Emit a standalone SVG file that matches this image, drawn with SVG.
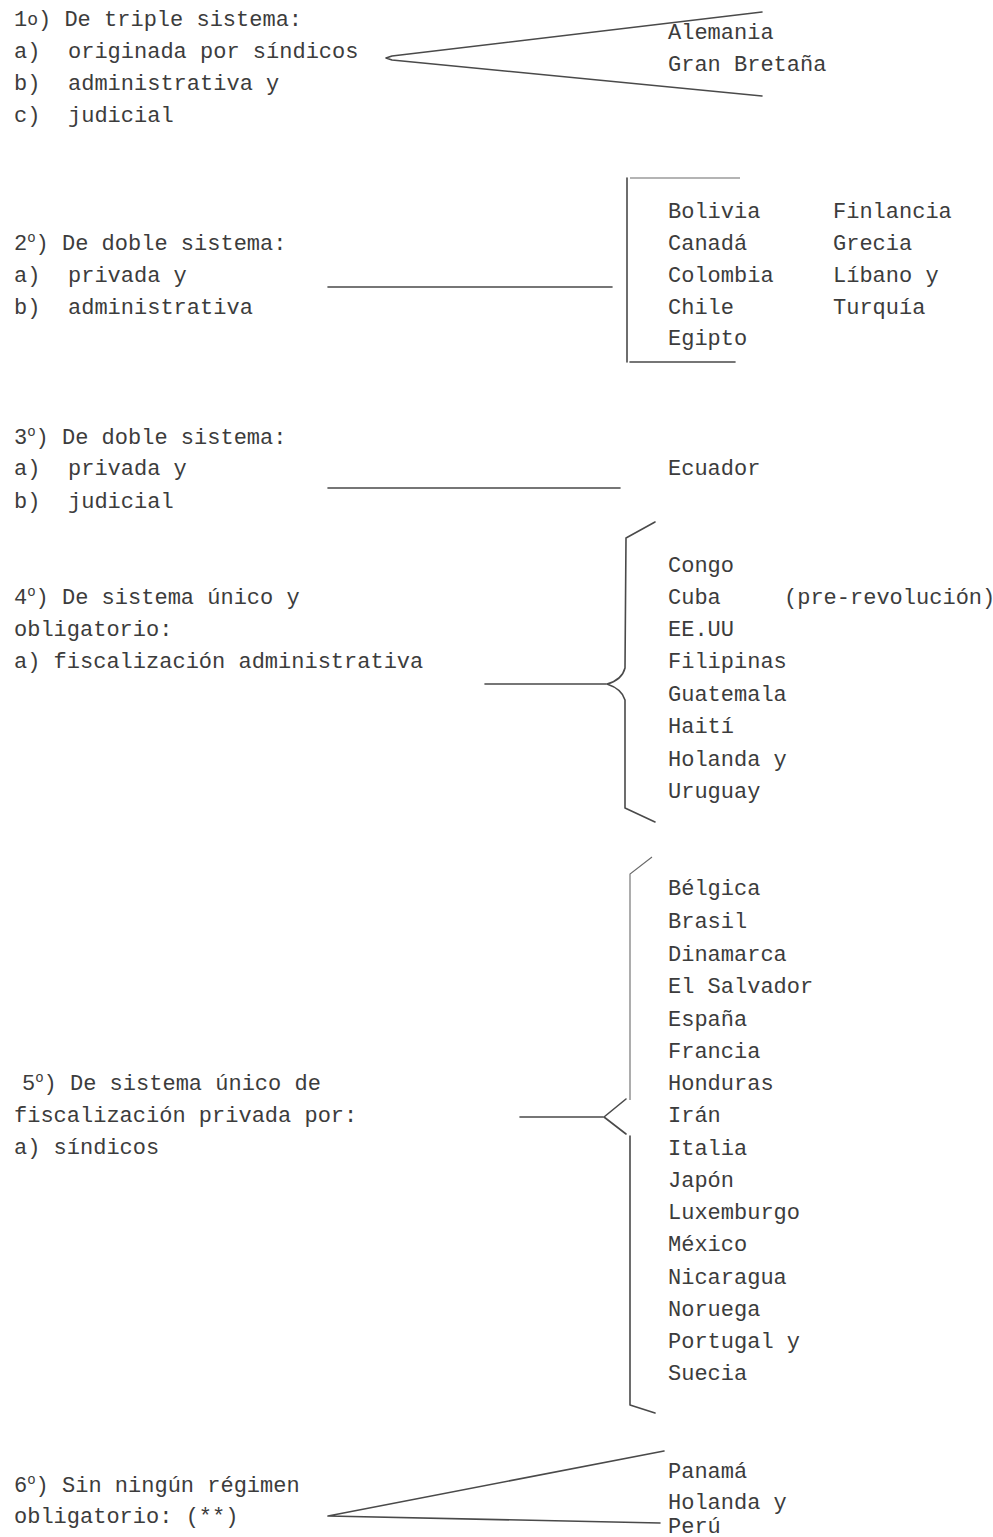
<svg xmlns="http://www.w3.org/2000/svg" width="993" height="1537" viewBox="0 0 993 1537">
<style>
text{font-family:"Liberation Mono","DejaVu Sans Mono",monospace;font-size:22px;fill:#3c3c3c;}
.sup{font-size:14px;}
.ln{stroke:#4a4a4a;stroke-width:1.6;fill:none;stroke-linecap:round;stroke-linejoin:round;}
.lt{stroke:#6a6a6a;stroke-width:1.1;fill:none;}
</style>
<rect width="993" height="1537" fill="#ffffff"/>
<g id="connectors">
<path class="ln" d="M762,12 L392,56 L386,58 L392,60 L762,96"/>
<path class="ln" d="M328,287 L612,287"/>
<path class="ln" d="M627,178 L627,362"/>
<path class="lt" d="M630,178 L740,178"/>
<path class="ln" d="M630,362 L735,362"/>
<path class="ln" d="M328,488 L620,488"/>
<path class="ln" d="M485,684 L606,684"/>
<path class="ln" d="M655,522 L626,538 L625,668 Q622,680 607,684 Q622,689 625,700 L625,808 L655,822"/>
<path class="ln" d="M520,1117 L603,1117"/>
<path class="ln" d="M626,1099 L604,1117 L626,1134"/>
<path class="lt" d="M652,857 L630,874 L630,1100"/>
<path class="ln" d="M630,1136 L630,1405 L655,1413"/>
<path class="ln" d="M664,1451 L328,1516 L660,1523"/>
</g>
<g id="n1">
<text x="14" y="26">1<tspan font-size="18" dy="-1">o</tspan><tspan dy="1">) De triple sistema:</tspan></text>
<text x="14" y="58">a)</text><text x="68" y="58">originada por síndicos</text>
<text x="14" y="90">b)</text><text x="68" y="90">administrativa y</text>
<text x="14" y="122">c)</text><text x="68" y="122">judicial</text>
</g>
<g id="c1">
<text x="668" y="39">Alemania</text>
<text x="668" y="71">Gran Bretaña</text>
</g>
<g id="n2">
<text x="14" y="250">2<tspan class="sup" dy="-8">o</tspan><tspan dy="8">) De doble sistema:</tspan></text>
<text x="14" y="282">a)</text><text x="68" y="282">privada y</text>
<text x="14" y="314">b)</text><text x="68" y="314">administrativa</text>
</g>
<g id="c2">
<text x="668" y="218">Bolivia</text>
<text x="668" y="250">Canadá</text>
<text x="668" y="282">Colombia</text>
<text x="668" y="314">Chile</text>
<text x="668" y="345">Egipto</text>
<text x="833" y="218">Finlancia</text>
<text x="833" y="250">Grecia</text>
<text x="833" y="282">Líbano y</text>
<text x="833" y="314">Turquía</text>
</g>
<g id="n3">
<text x="14" y="444">3<tspan class="sup" dy="-8">o</tspan><tspan dy="8">) De doble sistema:</tspan></text>
<text x="14" y="475">a)</text><text x="68" y="475">privada y</text>
<text x="14" y="508">b)</text><text x="68" y="508">judicial</text>
</g>
<g id="c3">
<text x="668" y="475">Ecuador</text>
</g>
<g id="n4">
<text x="14" y="604">4<tspan class="sup" dy="-8">o</tspan><tspan dy="8">) De sistema único y</tspan></text>
<text x="14" y="636">obligatorio:</text>
<text x="14" y="668">a) fiscalización administrativa</text>
</g>
<g id="c4">
<text x="668" y="572">Congo</text>
<text x="668" y="604">Cuba</text><text x="784" y="604" font-size="20.5">(pre-revolución)</text>
<text x="668" y="636">EE.UU</text>
<text x="668" y="668">Filipinas</text>
<text x="668" y="701">Guatemala</text>
<text x="668" y="733">Haití</text>
<text x="668" y="766">Holanda y</text>
<text x="668" y="798">Uruguay</text>
</g>
<g id="n5">
<text x="22" y="1090">5<tspan class="sup" dy="-8">o</tspan><tspan dy="8">) De sistema único de</tspan></text>
<text x="14" y="1122">fiscalización privada por:</text>
<text x="14" y="1154">a) síndicos</text>
</g>
<g id="c5">
<text x="668" y="895">Bélgica</text>
<text x="668" y="928">Brasil</text>
<text x="668" y="961">Dinamarca</text>
<text x="668" y="993">El Salvador</text>
<text x="668" y="1026">España</text>
<text x="668" y="1058">Francia</text>
<text x="668" y="1090">Honduras</text>
<text x="668" y="1122">Irán</text>
<text x="668" y="1155">Italia</text>
<text x="668" y="1187">Japón</text>
<text x="668" y="1219">Luxemburgo</text>
<text x="668" y="1251">México</text>
<text x="668" y="1284">Nicaragua</text>
<text x="668" y="1316">Noruega</text>
<text x="668" y="1348">Portugal y</text>
<text x="668" y="1380">Suecia</text>
</g>
<g id="n6">
<text x="14" y="1492">6<tspan class="sup" dy="-8">o</tspan><tspan dy="8">) Sin ningún régimen</tspan></text>
<text x="14" y="1523">obligatorio: (**)</text>
</g>
<g id="c6">
<text x="668" y="1478">Panamá</text>
<text x="668" y="1509">Holanda y</text>
<text x="668" y="1533">Perú</text>
</g>
</svg>
